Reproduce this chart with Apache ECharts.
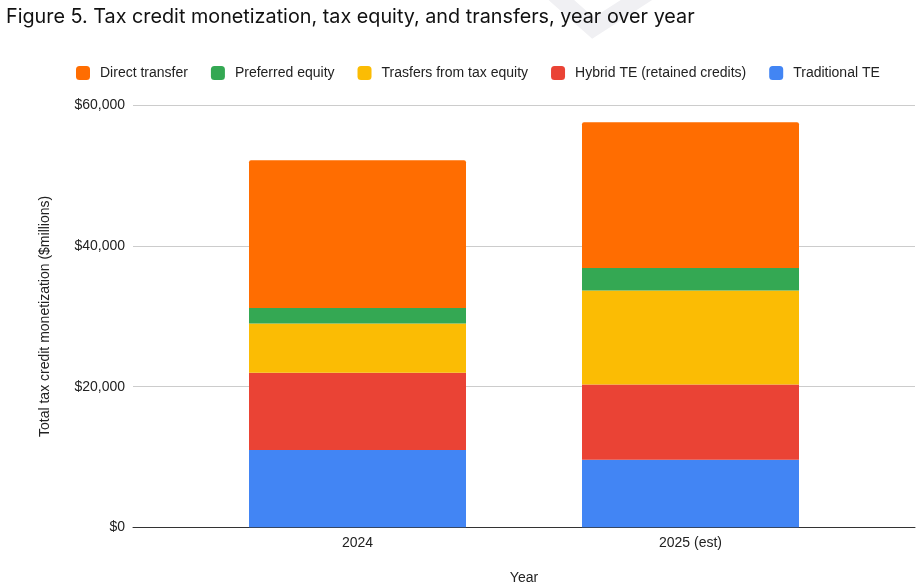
<!DOCTYPE html>
<html>
<head>
<meta charset="utf-8">
<script src="https://cdn.jsdelivr.net/npm/echarts@6/dist/echarts.min.js"></script>
<style>html,body{margin:0;padding:0;background:#fff;}#c{width:924px;height:584px;}</style>
</head>
<body>
<div id="c"></div>
<script>
const categories = ['2024', '2025 (est)'];
const traditionalTE = [11000, 9600];
const hybridTE = [11000, 10700];
const transfersFromTE = [7000, 13400];
const preferredEquity = [2200, 3200];
const directTransfer = [21000, 20700];
const yTicks = [0, 20000, 40000, 60000];

const seriesDefs = [
  {name: 'Traditional TE', data: traditionalTE, color: '#4285f4'},
  {name: 'Hybrid TE (retained credits)', data: hybridTE, color: '#ea4335'},
  {name: 'Trasfers from tax equity', data: transfersFromTE, color: '#fbbc04'},
  {name: 'Preferred equity', data: preferredEquity, color: '#34a853'},
  {name: 'Direct transfer', data: directTransfer, color: '#ff6d01'}
];

const font = "'Liberation Sans', Arial, sans-serif";
const chart = echarts.init(document.getElementById('c'), null, {renderer: 'canvas'});
chart.setOption({
  animation: false,
  textStyle: {fontFamily: font},
  title: {
    text: 'Figure 5. Tax credit monetization, tax equity, and transfers, year over year',
    left: 6, top: 7, padding: 0,
    textStyle: {fontSize: 19.8, fontWeight: 'normal', color: '#111', fontFamily: 'Inter, sans-serif'}
  },
  graphic: [{
    type: 'polyline', silent: true, z: -10,
    shape: {points: [[550, -10], [593, 28], [652, -10]]},
    style: {stroke: '#f0f0f3', lineWidth: 17, fill: null}
  }],
  legend: {
    data: ['Direct transfer', 'Preferred equity', 'Trasfers from tax equity', 'Hybrid TE (retained credits)', 'Traditional TE'],
    top: 66, left: 76, padding: 0,
    itemWidth: 14, itemHeight: 14, itemGap: 23,
    icon: 'roundRect',
    textStyle: {fontSize: 14, color: '#222', fontFamily: font, padding: [0, 0, 0, 5]}
  },
  grid: [
    {left: 133, right: 9, top: 105.5, bottom: 56.7, containLabel: false, outerBoundsMode: 'none'},
    {left: 191, right: 67, top: 105.5, bottom: 56.7, containLabel: false, outerBoundsMode: 'none'}
  ],
  xAxis: [
    {gridIndex: 0, type: 'value', min: 0, max: 1,
     axisLine: {show: true, onZero: false, lineStyle: {color: '#333', width: 1}},
     axisTick: {show: false}, axisLabel: {show: false}, splitLine: {show: false}},
    {gridIndex: 1, type: 'category', data: categories,
     axisLine: {show: false}, axisTick: {show: false},
     axisLabel: {fontSize: 14, color: '#222', margin: 9, fontFamily: font},
     name: 'Year', nameLocation: 'middle', nameGap: 44,
     nameTextStyle: {fontSize: 14, color: '#222', fontFamily: font}}
  ],
  yAxis: [
    {gridIndex: 0, type: 'value', min: 0, max: 60000, interval: 20000,
     axisLine: {show: false}, axisTick: {show: false},
     axisLabel: {fontSize: 14, color: '#222', margin: 8, fontFamily: font,
       formatter: v => yTicks.includes(v) ? '$' + v.toLocaleString('en-US') : ''},
     splitLine: {lineStyle: {color: '#cccccc', width: 1}},
     name: 'Total tax credit monetization ($millions)', nameLocation: 'middle', nameGap: 81,
     nameTextStyle: {fontSize: 14, color: '#222', fontFamily: font}},
    {gridIndex: 1, type: 'value', min: 0, max: 60000, interval: 20000, show: false,
     splitLine: {show: false}}
  ],
  series: seriesDefs.map((s, i) => ({
    name: s.name, type: 'bar', stack: 'total',
    xAxisIndex: 1, yAxisIndex: 1,
    data: s.data, barWidth: 217,
    itemStyle: {color: s.color, borderRadius: i === seriesDefs.length - 1 ? [2, 2, 0, 0] : 0},
    emphasis: {disabled: true}
  }))
});
</script>
</body>
</html>
